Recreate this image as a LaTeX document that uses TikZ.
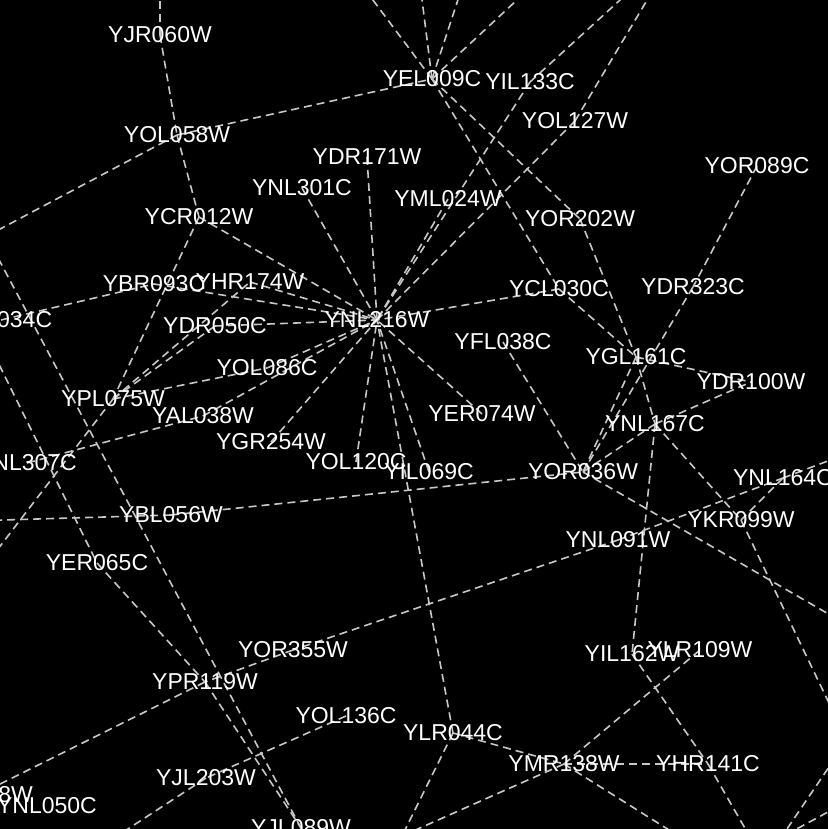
\documentclass[tikz,border=0pt]{standalone}
\usepackage{fontspec}
\setmainfont{Liberation Sans}
\pgfdeclarelayer{backdrop}
\pgfdeclarelayer{edges}
\pgfsetlayers{backdrop,edges,main}
\tikzset{
  lbl/.style={text=white, inner sep=0pt, font=\fontsize{23}{23}\selectfont},
  edge/.style={draw={rgb,255:red,200;green,200;blue,200}, line width=1.6pt, dash pattern=on 8pt off 5pt}
}
\begin{document}
\begin{tikzpicture}[x=1pt,y=-1pt]
\useasboundingbox (0,0) rectangle (827,829);
\begin{pgfonlayer}{backdrop}
\fill[black] (-5,-5) rectangle (832,834);
\end{pgfonlayer}
\clip (0,0) rectangle (827,829);
% nodes
\node[lbl] (YJR060W) at (160,35) {YJR060W};
\node[lbl] (YEL009C) at (432,79) {YEL009C};
\node[lbl] (YIL133C) at (530,82) {YIL133C};
\node[lbl] (YOL127W) at (575,121) {YOL127W};
\node[lbl] (YOL058W) at (177,135) {YOL058W};
\node[lbl] (YDR171W) at (367,157) {YDR171W};
\node[lbl] (YOR089C) at (757,166) {YOR089C};
\node[lbl] (YNL301C) at (302,188) {YNL301C};
\node[lbl] (YML024W) at (448,199) {YML024W};
\node[lbl] (YCR012W) at (199,217) {YCR012W};
\node[lbl] (YOR202W) at (580,219) {YOR202W};
\node[lbl] (YBR093C) at (154,284) {YBR093C};
\node[lbl] (YHR174W) at (250,282) {YHR174W};
\node[lbl] (YCL030C) at (559,289) {YCL030C};
\node[lbl] (YDR323C) at (693,287) {YDR323C};
\node[lbl] (YBR034C) at (1,320) {YBR034C};
\node[lbl] (YDR050C) at (215,326) {YDR050C};
\node[lbl] (YNL216W) at (377,320) {YNL216W};
\node[lbl] (YFL038C) at (503,342) {YFL038C};
\node[lbl] (YGL161C) at (636,357) {YGL161C};
\node[lbl] (YOL086C) at (267,368) {YOL086C};
\node[lbl] (YDR100W) at (751,382) {YDR100W};
\node[lbl] (YPL075W) at (113,399) {YPL075W};
\node[lbl] (YAL038W) at (203,416) {YAL038W};
\node[lbl] (YER074W) at (482,414) {YER074W};
\node[lbl] (YNL167C) at (655,424) {YNL167C};
\node[lbl] (YGR254W) at (271,442) {YGR254W};
\node[lbl] (YOL120C) at (356,462) {YOL120C};
\node[lbl] (YNL307C) at (27,463) {YNL307C};
\node[lbl] (YIL069C) at (429,472) {YIL069C};
\node[lbl] (YOR036W) at (583,472) {YOR036W};
\node[lbl] (YNL164C) at (783,478) {YNL164C};
\node[lbl] (YBL056W) at (171,515) {YBL056W};
\node[lbl] (YKR099W) at (741,520) {YKR099W};
\node[lbl] (YNL091W) at (618,540) {YNL091W};
\node[lbl] (YER065C) at (97,563) {YER065C};
\node[lbl] (YOR355W) at (293,650) {YOR355W};
\node[lbl] (YIL162W) at (632,654) {YIL162W};
\node[lbl] (YLR109W) at (700,650) {YLR109W};
\node[lbl] (YPR119W) at (205,682) {YPR119W};
\node[lbl] (YOL136C) at (346,716) {YOL136C};
\node[lbl] (YLR044C) at (453,733) {YLR044C};
\node[lbl] (YMR138W) at (564,764) {YMR138W};
\node[lbl] (YHR141C) at (708,764) {YHR141C};
\node[lbl] (YJL203W) at (206,778) {YJL203W};
\node[lbl] (YGR218W) at (-22,795) {YGR218W};
\node[lbl] (YNL050C) at (47,806) {YNL050C};
\node[lbl] (YJL089W) at (301,828) {YJL089W};
% off-canvas ends
\coordinate (oT1) at (160,-40);
\coordinate (oT2) at (343,-40);
\coordinate (oT3) at (417,-40);
\coordinate (oT4) at (471,-40);
\coordinate (oT5) at (560,-40);
\coordinate (oT6) at (664,-40);
\coordinate (oT7) at (671,-40);
\coordinate (oL1) at (-30,245);
\coordinate (oA) at (-20,224);
\coordinate (oC) at (-18,330);
\coordinate (oD) at (-22,575);
\coordinate (oL2) at (-30,521);
\coordinate (oE) at (65,870);
\coordinate (oF) at (402,836);
\coordinate (oG) at (720,862);
\coordinate (oH) at (769,870);
\coordinate (oR1) at (870,638);
\coordinate (oR2) at (870,445);
\coordinate (oR3) at (866,780);
\coordinate (oI) at (850,736);
\coordinate (oJ) at (770,854);
\coordinate (oK) at (850,800);
\coordinate (oL) at (780,838);
\begin{pgfonlayer}{edges}
\foreach \a/\b in {
  YJR060W/oT1, YJR060W/YOL058W, YOL058W/oL1, YOL058W/YEL009C, YOL058W/YCR012W,
  YCR012W/YPL075W, YCR012W/YNL216W, YNL301C/YNL216W, YDR171W/YNL216W,
  YML024W/YNL216W, YIL133C/YNL216W, YOL127W/YNL216W, YCL030C/YNL216W,
  YBR093C/YNL216W, YHR174W/YNL216W, YDR050C/YNL216W, YOL086C/YNL216W,
  YAL038W/YNL216W, YGR254W/YNL216W, YOL120C/YNL216W, YIL069C/YNL216W,
  YLR044C/YNL216W, YER074W/YNL216W,
  YEL009C/oT2, YEL009C/oT3, YEL009C/oT4, YEL009C/oT5, YIL133C/oT6, YOL127W/oT7,
  YEL009C/YCL030C, YEL009C/YOR202W, YOR202W/YGL161C, YCL030C/YGL161C,
  YOR089C/YDR323C, YDR323C/YOR036W, YGL161C/YOR036W, YGL161C/YNL167C,
  YGL161C/YDR100W, YNL167C/YDR100W, YNL167C/YOR036W, YNL167C/YIL162W,
  YNL167C/YKR099W, YFL038C/YOR036W, YBL056W/YOR036W, YBL056W/oL2,
  YOR036W/oR1, YNL091W/YNL164C, YNL164C/oR2, YNL164C/YKR099W, YKR099W/oR3,
  YNL091W/YOR355W, YOR355W/YPR119W, YPR119W/YGR218W, YER065C/YPR119W,
  oA/YJL089W, YPR119W/YJL089W, oC/YER065C, YPL075W/oD, YPL075W/YHR174W,
  YPL075W/YDR050C, YPL075W/YOL086C, YNL307C/YAL038W, YBR034C/YBR093C,
  YOL136C/YJL203W, YJL203W/oE, YLR044C/oF, YMR138W/oF, YMR138W/YHR141C,
  YMR138W/YLR109W, YMR138W/oG, YLR044C/YMR138W, YIL162W/YHR141C,
  YHR141C/oH, oI/oJ, oK/oL}
  {\draw[edge] (\a.center) -- (\b.center);}
\end{pgfonlayer}
\end{tikzpicture}
\end{document}
